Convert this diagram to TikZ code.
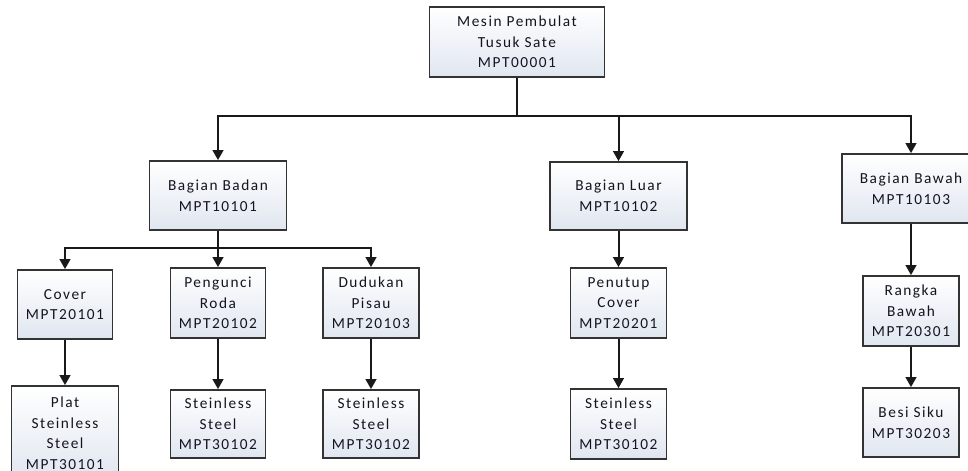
\documentclass[tikz,border=0pt]{standalone}
\usepackage{fontspec}
\setmainfont{Carlito}[LetterSpace=10]
\usetikzlibrary{arrows.meta}
\definecolor{boxline}{HTML}{333333}
\definecolor{boxlow}{HTML}{E0E6F0}
\definecolor{inktext}{HTML}{141420}
\tikzset{
  part/.style={draw=boxline, line width=1.3pt, top color=white, bottom color=boxlow,
    align=center, inner sep=1pt, text=inktext,
    font=\fontsize{11.5}{15.4}\selectfont},
  link/.style={draw=black!90, line width=1.5pt,
    -{Triangle[length=7.5pt,width=8pt]}},
  trunk/.style={draw=black!90, line width=1.5pt}
}
\begin{document}
\begin{tikzpicture}[x=0.75pt,y=-0.75pt]
\useasboundingbox (0,0) rectangle (968,471);
\clip (0,0) rectangle (968,471);
% top level
\node[part, minimum width=175*0.75pt, minimum height=70*0.75pt] (root) at (517,42)
  {Mesin Pembulat\\Tusuk Sate\\MPT00001};
% first level
\node[part, minimum width=137*0.75pt, minimum height=69*0.75pt] (badan) at (218,195.5)
  {Bagian Badan\\MPT10101};
\node[part, minimum width=137*0.75pt, minimum height=68*0.75pt] (luar) at (618.5,196)
  {Bagian Luar\\MPT10102};
\node[part, minimum width=138*0.75pt, minimum height=69*0.75pt] (bawah) at (911,188.5)
  {Bagian Bawah\\MPT10103};
% second level
\node[part, minimum width=95*0.75pt, minimum height=69*0.75pt] (cover) at (65,304.5)
  {Cover\\MPT20101};
\node[part, minimum width=95*0.75pt, minimum height=70*0.75pt] (kunci) at (218,303)
  {Pengunci\\Roda\\MPT20102};
\node[part, minimum width=96*0.75pt, minimum height=70*0.75pt] (dudukan) at (371,303)
  {Dudukan\\Pisau\\MPT20103};
\node[part, minimum width=96*0.75pt, minimum height=70*0.75pt] (penutup) at (618.5,303)
  {Penutup\\Cover\\MPT20201};
\node[part, minimum width=96*0.75pt, minimum height=70*0.75pt] (rangka) at (911,311)
  {Rangka\\Bawah\\MPT20301};
% third level
\node[part, minimum width=107*0.75pt, minimum height=94*0.75pt] (plat) at (65,433)
  {Plat\\Steinless\\Steel\\MPT30101};
\node[part, minimum width=95*0.75pt, minimum height=68*0.75pt] (stA) at (218,424)
  {Steinless\\Steel\\MPT30102};
\node[part, minimum width=96*0.75pt, minimum height=68*0.75pt] (stB) at (371,424)
  {Steinless\\Steel\\MPT30102};
\node[part, minimum width=96*0.75pt, minimum height=70*0.75pt] (stC) at (618.5,424)
  {Steinless\\Steel\\MPT30102};
\node[part, minimum width=96*0.75pt, minimum height=69*0.75pt] (besi) at (911,422.5)
  {Besi Siku\\MPT30203};
% junctions of the branching lines
\coordinate (j0) at (root.south |- 0,116);
\coordinate (j1) at (badan.south |- 0,248);
% root to first level
\draw[trunk] (root.south) -- (j0);
\draw[link] (j0) -| (badan.north);
\draw[link] (j0) -| (luar.north);
\draw[link] (j0) -| (bawah.north);
% Bagian Badan branch
\draw[trunk] (badan.south) -- (j1);
\draw[link] (j1) -| (cover.north);
\draw[link] (j1) -- (kunci.north);
\draw[link] (j1) -| (dudukan.north);
\draw[link] (cover) -- (plat);
\draw[link] (kunci) -- (stA);
\draw[link] (dudukan) -- (stB);
% Bagian Luar branch
\draw[link] (luar) -- (penutup);
\draw[link] (penutup) -- (stC);
% Bagian Bawah branch
\draw[link] (bawah) -- (rangka);
\draw[link] (rangka) -- (besi);
\end{tikzpicture}
\end{document}
